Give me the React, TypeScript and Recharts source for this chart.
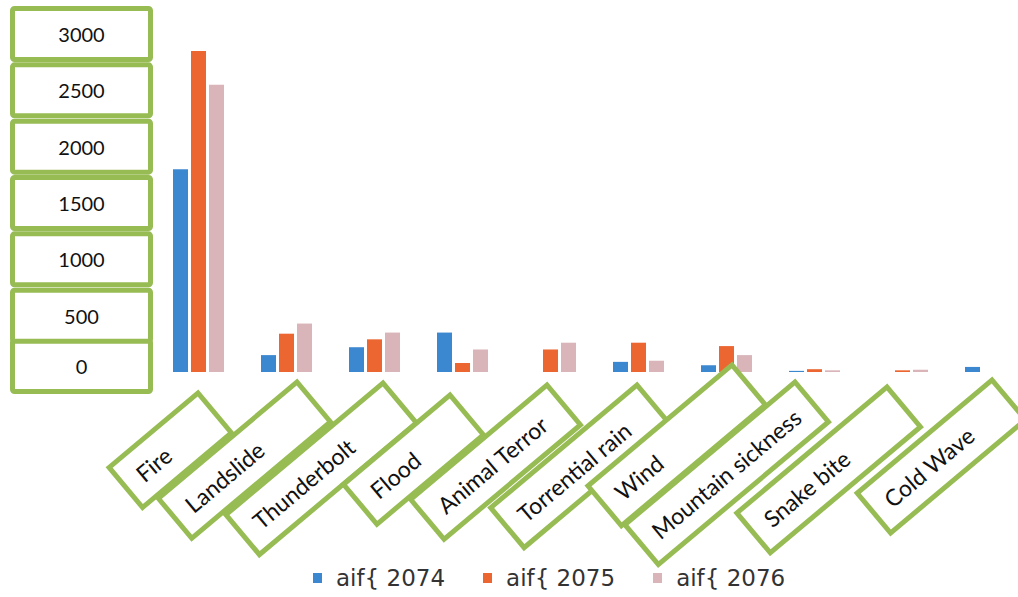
import React from 'react';
import { BarChart, Bar, XAxis, YAxis, Legend } from 'recharts';

// categories and yearly counts
const causes = [
  'Fire',
  'Landslide',
  'Thunderbolt',
  'Flood',
  'Animal Terror',
  'Torrential rain',
  'Wind',
  'Mountain sickness',
  'Snake bite',
  'Cold Wave',
];
const counts2074 = [1800, 150, 220, 350, 0, 90, 60, 10, 0, 45];
const counts2075 = [2850, 340, 290, 80, 200, 260, 230, 25, 15, 0];
const counts2076 = [2550, 430, 350, 200, 260, 100, 150, 15, 20, 0];
const seriesNames = ['aif{ 2074', 'aif{ 2075', 'aif{ 2076'];
const valueTicks = [0, 500, 1000, 1500, 2000, 2500, 3000];

const rows = causes.map((cause, i) => ({
  cause,
  y2074: counts2074[i],
  y2075: counts2075[i],
  y2076: counts2076[i],
}));

const GREEN = '#98BC54';
const BLUE = '#3C88D0';
const ORANGE = '#EC6632';
const PINK = '#D9B5B9';

// size / nudge of each slanted label box
const causeBoxes: Record<string, { len: number; dx: number; dy: number }> = {
  Fire: { len: 116, dx: 0, dy: 8 },
  Landslide: { len: 181, dx: 11, dy: -3 },
  Thunderbolt: { len: 205, dx: 9, dy: -2 },
  Flood: { len: 139, dx: -12, dy: 10 },
  'Animal Terror': { len: 178, dx: -3, dy: 0 },
  'Torrential rain': { len: 191, dx: -1, dy: 0 },
  Wind: { len: 188, dx: 6, dy: -20 },
  'Mountain sickness': { len: 222, dx: -19, dy: -3 },
  'Snake bite': { len: 196, dx: -15, dy: 2 },
  'Cold Wave': { len: 176, dx: 2, dy: -5 },
};

const ValueTick = ({ x, y, payload }: any) => {
  const cy = payload.value === 0 ? y - 6 : y;
  return (
    <g>
      <rect
        x={x - 141.5}
        y={cy - 25.5}
        width={138}
        height={51}
        rx={2}
        fill="#fff"
        stroke={GREEN}
        strokeWidth={5}
      />
      <text
        x={x - 72.5}
        y={cy}
        textAnchor="middle"
        dominantBaseline="central"
        fontFamily="Lato"
        fontSize={20}
        fill="#111"
      >
        {payload.value}
      </text>
    </g>
  );
};

const CauseTick = ({ x, y, payload }: any) => {
  const b = causeBoxes[payload.value];
  return (
    <g transform={`translate(${x + b.dx},${y + 13 + b.dy}) rotate(-40)`}>
      <rect
        x={-b.len}
        y={0}
        width={b.len}
        height={52}
        fill="#fff"
        stroke={GREEN}
        strokeWidth={5}
      />
      <text
        x={-b.len + 17}
        y={26}
        dominantBaseline="central"
        fontFamily="Lato"
        fontSize={23}
        fill="#111"
      >
        {payload.value}
      </text>
    </g>
  );
};

const LegendRow = ({ payload }: any) => (
  <div
    style={{
      display: 'flex',
      alignItems: 'center',
      fontFamily: 'DejaVu Sans',
      fontSize: 23,
      color: '#333',
      whiteSpace: 'nowrap',
    }}
  >
    {(payload || []).map((p: any) => (
      <div key={p.value} style={{ display: 'flex', alignItems: 'center', marginRight: 38 }}>
        <span
          style={{ display: 'inline-block', width: 9, height: 10, background: p.color, marginRight: 14 }}
        />
        <span>{p.value}</span>
      </div>
    ))}
  </div>
);

export default function App() {
  return (
    <div
      style={{
        position: 'fixed',
        left: 0,
        top: 0,
        width: 1018,
        height: 597,
        overflow: 'hidden',
        background: '#fff',
      }}
    >
      <BarChart
        width={1040}
        height={597}
        data={rows}
        margin={{ top: 34, right: 6, bottom: 25, left: 10 }}
        barSize={15}
        barGap={3}
      >
        <XAxis
          dataKey="cause"
          interval={0}
          axisLine={false}
          tickLine={false}
          tickSize={0}
          tickMargin={0}
          height={200}
          tick={(props: any) => <CauseTick {...props} />}
        />
        <YAxis
          domain={[0, 3000]}
          ticks={valueTicks}
          interval={0}
          axisLine={false}
          tickLine={false}
          tickSize={0}
          tickMargin={0}
          width={144}
          tick={(props: any) => <ValueTick {...props} />}
        />
        <Bar dataKey="y2074" name={seriesNames[0]} fill={BLUE} isAnimationActive={false} />
        <Bar dataKey="y2075" name={seriesNames[1]} fill={ORANGE} isAnimationActive={false} />
        <Bar dataKey="y2076" name={seriesNames[2]} fill={PINK} isAnimationActive={false} />
        <Legend
          layout="horizontal"
          verticalAlign="middle"
          align="center"
          wrapperStyle={{ left: 313, top: 565, width: 540 }}
          content={(props: any) => <LegendRow {...props} />}
        />
      </BarChart>
    </div>
  );
}
